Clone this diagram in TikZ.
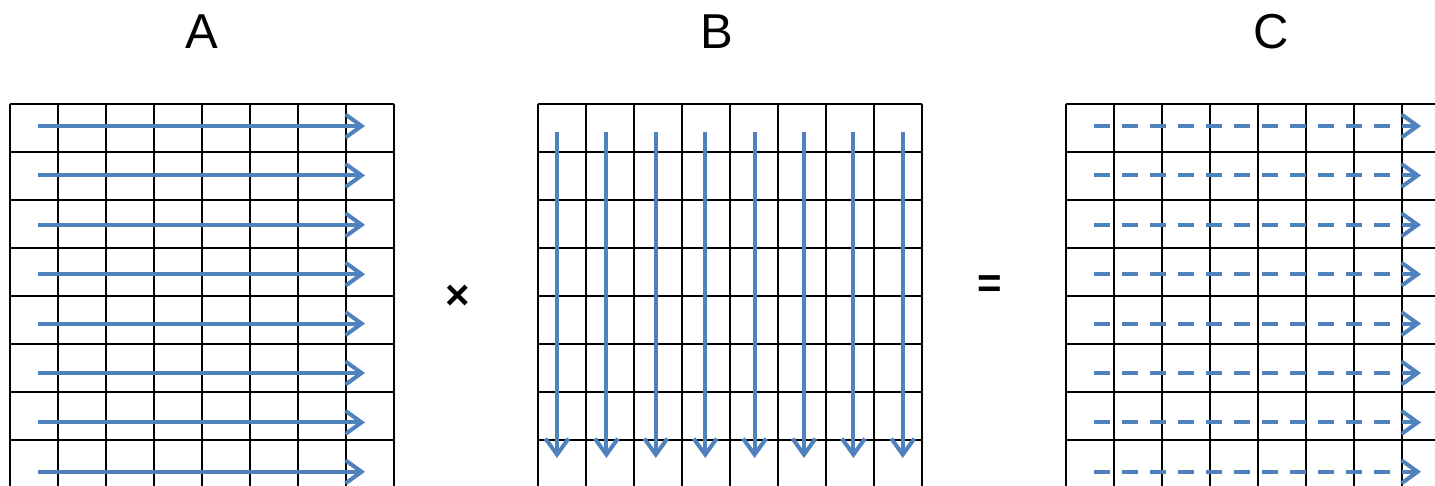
\documentclass[tikz,border=0pt]{standalone}
\usepackage{fontspec}
\setmainfont{Liberation Sans}
\usepackage{xcolor}
\usetikzlibrary{arrows.meta,positioning}
\definecolor{flowblue}{RGB}{79,129,189}

\begin{document}
\begin{tikzpicture}[x=1pt,y=-1pt,
          gridline/.style={draw=black,line width=2.4pt},
          flow/.style={draw=flowblue,line width=4pt,
                       -{Straight Barb[length=16pt,width=23pt]}},
          dflow/.style={flow,dash pattern=on 16pt off 12pt},
          lbl/.style={font=\fontsize{49}{49}\selectfont,anchor=base},
          op/.style={font=\bfseries\fontsize{42}{42}\selectfont}]
        \clip (0,0) rectangle (1435,485);
        % three 8x8 grids
        \foreach \gx in {10,538,1066} {
          \foreach \i in {0,...,8}
            \draw[gridline] (\gx+48*\i,104) -- (\gx+48*\i,490);
          \foreach \j in {0,...,8}
            \draw[gridline] (\gx,104+48*\j) -- (\gx+384,104+48*\j);
        }
        \node[lbl] (labA) at (202,48) {A};
        \node[lbl] (labB) at (717,48) {B};
        \node[lbl] (labC) at (1271,48) {C};
        \node[op] (times) at (458,297) {×};
        \node[op] (equals) at (990,287) {=};
        % rows of A, columns of B, rows of C
        \foreach \k in {0,...,7} {
          \coordinate (a\k s) at (38,126+49.4*\k);
          \coordinate (a\k e) at (365,126+49.4*\k);
          \coordinate (b\k s) at (557+49.4*\k,132);
          \coordinate (b\k e) at (557+49.4*\k,458);
          \coordinate (c\k s) at (1094,126+49.4*\k);
          \coordinate (c\k e) at (1421,126+49.4*\k);
          \draw[flow] (a\k s) -- (a\k e);
          \draw[flow] (b\k s) -- (b\k e);
          \draw[dflow] (c\k s) -- (c\k e);
        }
      \end{tikzpicture}
\end{document}
